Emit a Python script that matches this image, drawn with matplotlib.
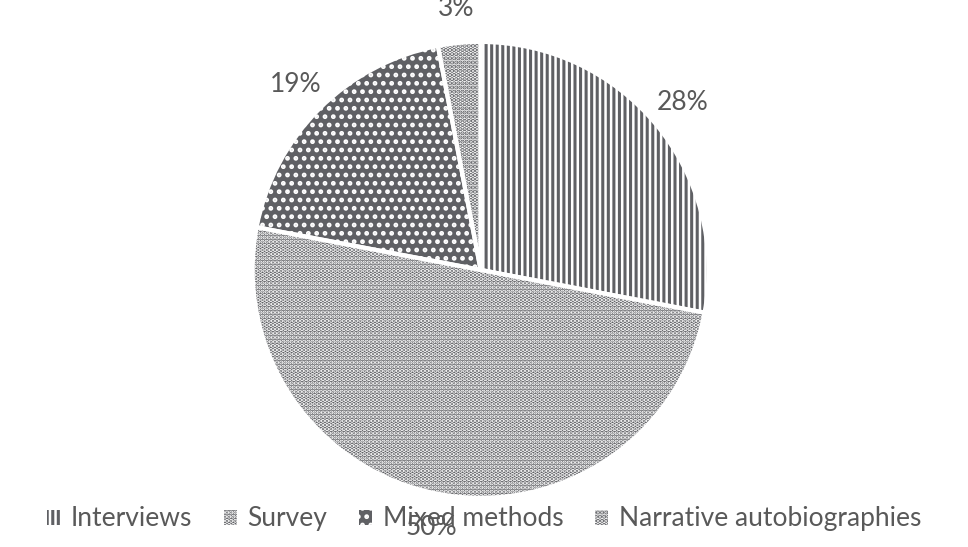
import matplotlib.pyplot as plt
from matplotlib.patches import Patch

labels = ["Interviews", "Survey", "Mixed methods", "Narrative autobiographies"]
values = [28, 50, 19, 3]
faces = ["white", "#5f6064", "#5f6064", "white"]
hcols = ["#5f6064", "white", "white", "#5f6064"]
hatches = ["|||", "....", "..", "...."]

plt.rcParams['font.family'] = ['Lato', 'DejaVu Sans']
plt.rcParams['hatch.linewidth'] = 2.2
fig = plt.figure(figsize=(9.68, 5.47), dpi=100)
ax = fig.add_axes([0.261, 0.0896, 0.471, 0.834])
wedges, texts, autotexts = ax.pie(values, startangle=90, counterclock=False,
                                  autopct='%d%%', pctdistance=1.15,
                                  textprops=dict(color="#595959", fontsize=19))
for w, f, h, c in zip(wedges, faces, hatches, hcols):
    w.set_facecolor(f); w.set_hatch(h); w.set_edgecolor(c); w.set_linewidth(0)
ax.pie(values, startangle=90, counterclock=False,
       wedgeprops=dict(fill=False, edgecolor="white", linewidth=3))
ax.set_xlim(-1, 1); ax.set_ylim(-1, 1)
ax.set_aspect('equal')
handles = [Patch(facecolor=f, hatch=h, edgecolor=c, linewidth=0, label=l)
           for f, h, c, l in zip(faces, hatches, hcols, labels)]
fig.legend(handles=handles, loc='lower center', ncol=4, frameon=False,
           bbox_to_anchor=(0.5, -0.015), fontsize=19, labelcolor="#595959",
           handlelength=0.5, handleheight=0.5, columnspacing=1.2, handletextpad=0.4)
fig.savefig("out.png", dpi=100)
